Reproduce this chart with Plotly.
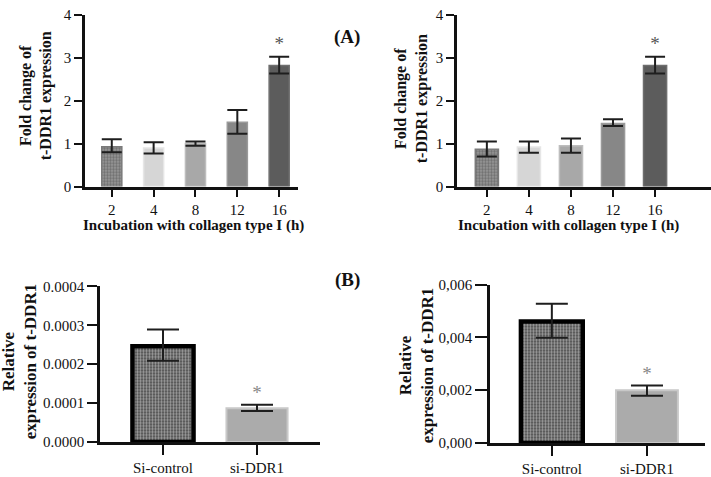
import plotly.graph_objects as go

# ---------------- data ----------------
hours = ["2", "4", "8", "12", "16"]
a1_mean = [0.93, 0.90, 1.00, 1.50, 2.82]
a1_upper = [1.10, 1.03, 1.05, 1.78, 3.02]
a1_lower = [0.80, 0.77, 0.95, 1.23, 2.63]
a2_mean = [0.87, 0.92, 0.95, 1.47, 2.82]
a2_upper = [1.05, 1.05, 1.12, 1.57, 3.02]
a2_lower = [0.70, 0.79, 0.79, 1.41, 2.63]
a_star = [3.30, 3.30]

groups = ["Si-control", "si-DDR1"]
b1_mean = [0.000246, 0.000087]
b1_upper = [0.000289, 0.0000957]
b1_lower = [0.000209, 0.000080]
b2_mean = [0.0046, 0.0020]
b2_upper = [0.00527, 0.00218]
b2_lower = [0.00398, 0.00179]
b_star = [0.000124, 0.00255]

b1_ticks = [0, 0.0001, 0.0002, 0.0003, 0.0004]
b1_ticktext = ["0.0000", "0.0001", "0.0002", "0.0003", "0.0004"]
b2_ticks = [0, 0.002, 0.004, 0.006]
b2_ticktext = ["0,000", "0,002", "0,004", "0,006"]

SERIF = "Liberation Serif"
a_colors = ["#9a9a9a", "#d6d6d6", "#a8a8a8", "#878787", "#5c5c5c"]
a_lines = ["#7a7a7a", "#e6e6e6", "#bdbdbd", "#9a9a9a", "#6e6e6e"]

fig = go.Figure()


def add_a(mean, upper, lower, xa, ya, width):
    idx = list(range(len(hours)))
    fig.add_trace(go.Bar(
        x=idx, y=mean, xaxis=xa, yaxis=ya, width=width,
        marker=dict(color=a_colors, line=dict(color=a_lines, width=1.5),
                    pattern=dict(shape=[".", "", "", "", ""], fgcolor="#1a1a1a",
                                 bgcolor="#8f8f8f", size=3, solidity=0.5)),
        error_y=dict(type="data", symmetric=False,
                     array=[u - m for u, m in zip(upper, mean)],
                     arrayminus=[m - l for m, l in zip(mean, lower)],
                     color="#1e1e1e", thickness=2, width=10),
        showlegend=False))


def add_b(mean, upper, lower, xa, ya):
    idx = list(range(len(groups)))
    fig.add_trace(go.Bar(
        x=idx, y=mean, xaxis=xa, yaxis=ya, width=0.65,
        marker=dict(color=["#444444", "#ababab"],
                    line=dict(color=["#000000", "#c8c8c8"], width=[4.5, 2]),
                    pattern=dict(shape=[".", ""], fgcolor="#0a0a0a",
                                 bgcolor="#5e5e5e", size=3, solidity=0.5)),
        error_y=dict(type="data", symmetric=False,
                     array=[u - m for u, m in zip(upper, mean)],
                     arrayminus=[m - l for m, l in zip(mean, lower)],
                     color="#1e1e1e", thickness=2, width=16),
        showlegend=False))


add_a(a1_mean, a1_upper, a1_lower, "x", "y", 0.48)
add_a(a2_mean, a2_upper, a2_lower, "x2", "y2", 0.55)
add_b(b1_mean, b1_upper, b1_lower, "x3", "y3")
add_b(b2_mean, b2_upper, b2_lower, "x4", "y4")

# significance stars
star_font_a = dict(family=SERIF, size=19, color="#555")
star_font_b = dict(family=SERIF, size=19, color="#888")
fig.add_trace(go.Scatter(x=[4], y=[a_star[0]], xaxis="x", yaxis="y", mode="text",
                         text=["*"], textfont=star_font_a, showlegend=False))
fig.add_trace(go.Scatter(x=[4], y=[a_star[1]], xaxis="x2", yaxis="y2", mode="text",
                         text=["*"], textfont=star_font_a, showlegend=False))
fig.add_trace(go.Scatter(x=[1], y=[b_star[0]], xaxis="x3", yaxis="y3", mode="text",
                         text=["*"], textfont=star_font_b, showlegend=False))
fig.add_trace(go.Scatter(x=[1], y=[b_star[1]], xaxis="x4", yaxis="y4", mode="text",
                         text=["*"], textfont=star_font_b, showlegend=False))

W, H = 711, 477


def xd(a, b):
    return [a / W, b / W]


def yd(top, bottom):
    return [1 - bottom / H, 1 - top / H]


axis_common = dict(showline=True, linecolor="#111", linewidth=2.5, ticks="outside",
                   tickcolor="#111", tickwidth=2, showgrid=False, zeroline=False,
                   tickfont=dict(family=SERIF, size=15, color="#111"), fixedrange=True)

fig.update_layout(
    width=W, height=H, margin=dict(l=0, r=0, t=0, b=0),
    paper_bgcolor="white", plot_bgcolor="white",
    xaxis=dict(domain=xd(85, 298), range=[-0.64, 4.45], anchor="y",
               tickvals=list(range(5)), ticktext=hours, ticklen=8, **axis_common),
    yaxis=dict(domain=yd(7, 186), range=[0, 4], anchor="x", tickvals=[0, 1, 2, 3, 4],
               ticklen=8, **axis_common),
    xaxis2=dict(domain=xd(457, 711), range=[-0.71, 5.33], anchor="y2",
                tickvals=list(range(5)), ticktext=hours, ticklen=8, **axis_common),
    yaxis2=dict(domain=yd(7, 186), range=[0, 4], anchor="x2", tickvals=[0, 1, 2, 3, 4],
                ticklen=8, **axis_common),
    xaxis3=dict(domain=xd(100, 320), range=[-0.67, 1.67], anchor="y3",
                tickvals=[0, 1], ticktext=groups, ticklen=10, **axis_common),
    yaxis3=dict(domain=yd(290, 452), range=[0, 0.0004], anchor="x3",
                tickvals=b1_ticks, ticktext=b1_ticktext, ticklen=10, **axis_common),
    xaxis4=dict(domain=xd(490, 705), range=[-0.65, 1.61], anchor="y4",
                tickvals=[0, 1], ticktext=groups, ticklen=10, **axis_common),
    yaxis4=dict(domain=yd(288, 453), range=[0, 0.006], anchor="x4",
                tickvals=b2_ticks, ticktext=b2_ticktext, ticklen=12, **axis_common),
)

bold = lambda s: "<b>" + s + "</b>"
annots = [
    dict(x=36 / W, y=1 - 92 / H, text=bold("Fold change of<br>t-DDR1 expression"), textangle=-90, size=16),
    dict(x=411 / W, y=1 - 95 / H, text=bold("Fold change of<br>t-DDR1 expression"), textangle=-90, size=16),
    dict(x=194 / W, y=1 - 227 / H, text=bold("Incubation with collagen type I (h)"), textangle=0, size=15),
    dict(x=568 / W, y=1 - 227 / H, text=bold("Incubation with collagen type I (h)"), textangle=0, size=15),
    dict(x=19 / W, y=1 - 368 / H, text=bold("Relative<br>expression of t-DDR1"), textangle=-90, size=17),
    dict(x=416 / W, y=1 - 372 / H, text=bold("Relative<br>expression of t-DDR1"), textangle=-90, size=17),
]
for a in annots:
    fig.add_annotation(xref="paper", yref="paper", showarrow=False,
                       font=dict(family=SERIF, size=a["size"], color="#111"),
                       xanchor="center", yanchor="middle", x=a["x"], y=a["y"],
                       text=a["text"], textangle=a["textangle"])

fig.add_annotation(xref="paper", yref="paper", x=347 / W, y=1 - 17 / H, text=bold("(A)"),
                   showarrow=False, font=dict(family=SERIF, size=19, color="#111"))
fig.add_annotation(xref="paper", yref="paper", x=347 / W, y=1 - 283 / H, text=bold("(B)"),
                   showarrow=False, font=dict(family=SERIF, size=19, color="#111"))

fig.write_html("out.html")
